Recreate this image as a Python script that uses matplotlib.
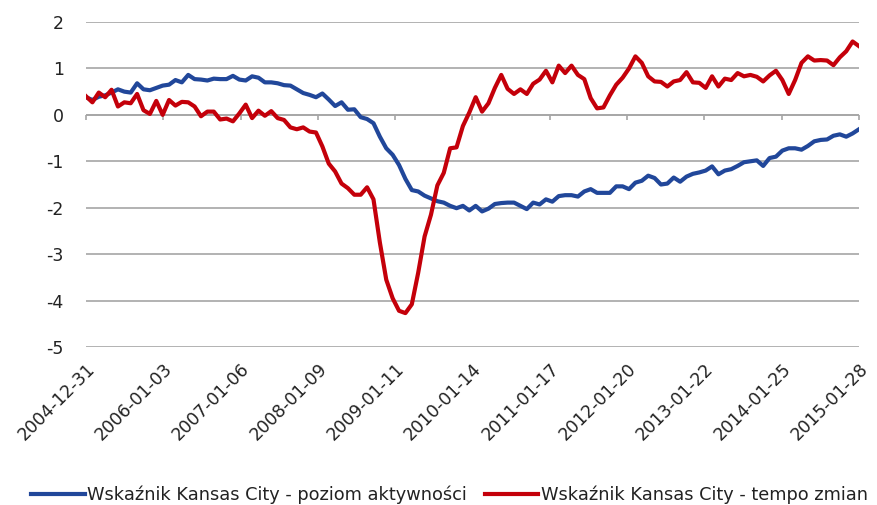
import matplotlib
matplotlib.use("Agg")
import matplotlib.pyplot as plt
import numpy as np

tick_labels = ["2004-12-31", "2006-01-03", "2007-01-06", "2008-01-09", "2009-01-11",
               "2010-01-14", "2011-01-17", "2012-01-20", "2013-01-22", "2014-01-25",
               "2015-01-28"]

poziom = [0.38, 0.32, 0.39, 0.42, 0.48, 0.55, 0.50, 0.48, 0.68, 0.55,
          0.53, 0.58, 0.63, 0.65, 0.75, 0.70, 0.86, 0.77, 0.76, 0.74,
          0.78, 0.77, 0.77, 0.84, 0.76, 0.74, 0.83, 0.80, 0.70, 0.70,
          0.68, 0.64, 0.63, 0.55, 0.47, 0.43, 0.38, 0.46, 0.33, 0.19,
          0.27, 0.11, 0.12, -0.05, -0.09, -0.18, -0.47, -0.72, -0.86, -1.08,
          -1.38, -1.62, -1.65, -1.74, -1.80, -1.86, -1.89, -1.96, -2.01, -1.96,
          -2.06, -1.96, -2.08, -2.02, -1.92, -1.90, -1.89, -1.89, -1.96, -2.03,
          -1.89, -1.93, -1.82, -1.87, -1.75, -1.73, -1.73, -1.76, -1.65, -1.60,
          -1.68, -1.68, -1.68, -1.54, -1.54, -1.60, -1.46, -1.42, -1.31, -1.36,
          -1.50, -1.48, -1.35, -1.44, -1.33, -1.27, -1.24, -1.20, -1.11, -1.28,
          -1.20, -1.17, -1.10, -1.02, -1.00, -0.98, -1.10, -0.93, -0.90, -0.77,
          -0.72, -0.72, -0.75, -0.67, -0.57, -0.54, -0.53, -0.45, -0.42, -0.47,
          -0.40, -0.31]

tempo = [0.40, 0.27, 0.48, 0.38, 0.54, 0.18, 0.27, 0.25, 0.45, 0.10,
         0.02, 0.30, 0.00, 0.32, 0.20, 0.28, 0.27, 0.18, -0.03, 0.07,
         0.07, -0.10, -0.08, -0.14, 0.03, 0.22, -0.07, 0.09, -0.02, 0.08,
         -0.07, -0.11, -0.27, -0.31, -0.27, -0.36, -0.38, -0.68, -1.05, -1.22,
         -1.48, -1.58, -1.72, -1.72, -1.56, -1.82, -2.75, -3.55, -3.95, -4.22,
         -4.27, -4.08, -3.40, -2.62, -2.15, -1.52, -1.25, -0.72, -0.70, -0.24,
         0.05, 0.38, 0.07, 0.25, 0.58, 0.86, 0.56, 0.45, 0.55, 0.45,
         0.67, 0.76, 0.95, 0.70, 1.06, 0.90, 1.06, 0.86, 0.77, 0.36,
         0.14, 0.16, 0.42, 0.65, 0.80, 1.00, 1.26, 1.12, 0.83, 0.72,
         0.71, 0.61, 0.72, 0.75, 0.92, 0.70, 0.69, 0.58, 0.83, 0.61,
         0.78, 0.75, 0.90, 0.83, 0.86, 0.82, 0.72, 0.85, 0.95, 0.75,
         0.45, 0.75, 1.12, 1.26, 1.17, 1.18, 1.17, 1.07, 1.24, 1.37,
         1.58, 1.48]

series_names = ["Wskaźnik Kansas City - poziom aktywności",
                "Wskaźnik Kansas City - tempo zmian"]
colors = ["#21479A", "#C4000A"]

plt.rcParams['font.family'] = ['DejaVu Sans']
plt.rcParams['axes.unicode_minus'] = False

fig = plt.figure(figsize=(8.78, 5.05), dpi=100)
ax = fig.add_axes([86/878, 1-347/505, (859-86)/878, (347-22)/505])

x = np.arange(len(poziom))
ax.plot(x, poziom, color=colors[0], lw=3.0, label=series_names[0], solid_joinstyle='round')
ax.plot(x, tempo, color=colors[1], lw=3.0, label=series_names[1], solid_joinstyle='round')

ax.set_xlim(0, len(poziom) - 1)
ax.set_ylim(-5, 2)
ax.set_yticks(range(-5, 3))
ax.yaxis.grid(True, color="#A6A6A6", lw=1.2)
ax.set_axisbelow(True)
for s in ax.spines.values():
    s.set_visible(False)

tick_pos = np.linspace(0, len(poziom) - 1, len(tick_labels))
ax.set_xticks(tick_pos)
ax.set_xticklabels(tick_labels, rotation=45, ha='right', rotation_mode='anchor')
ax.tick_params(axis='x', length=0, pad=9, labelsize=12.5, colors='#222222')
ax.tick_params(axis='y', length=0, pad=16, labelsize=12.5, colors='#222222')

# category axis line at zero with downward tick marks
ax.axhline(0, color="#A6A6A6", lw=1.2, zorder=1)
ax.vlines(tick_pos, -0.12, 0, color="#A6A6A6", lw=1.2, clip_on=False, zorder=1)

fig.legend(loc='lower center', bbox_to_anchor=(0.512, -0.03), ncol=2, frameon=False,
           fontsize=12.8, handlelength=3.0, handletextpad=0.15, columnspacing=1.0,
           labelcolor='#222222')

fig.savefig("out.png", dpi=100)
